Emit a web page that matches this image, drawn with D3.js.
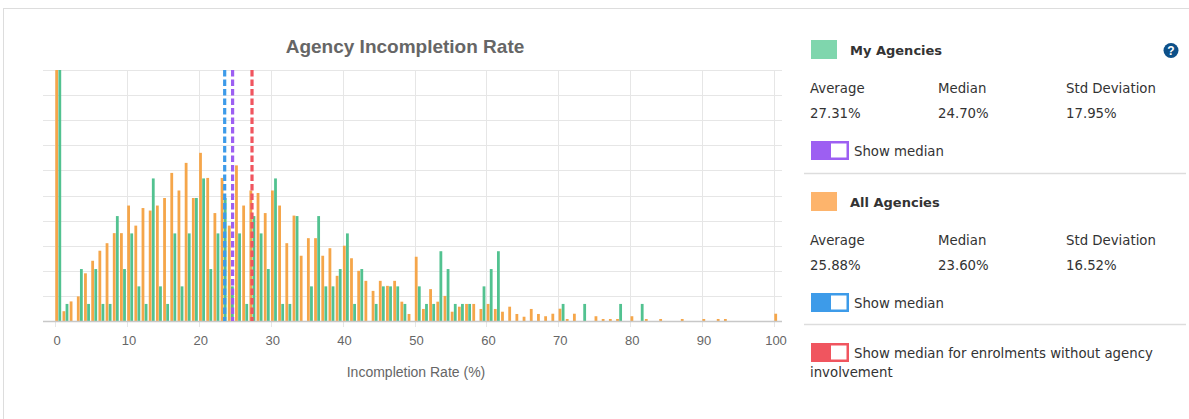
<!DOCTYPE html>
<html>
<head>
<meta charset="utf-8">
<script src="https://cdn.jsdelivr.net/npm/d3@7"></script>
<style>
  html, body { margin: 0; padding: 0; background: #ffffff; }
  svg { display: block; }
</style>
</head>
<body>
<svg id="chart" width="1189" height="419"></svg>
<script>
// ---------- DATA ----------
// Bin start values (Incompletion Rate %, bins of width 1)
const bins = [0,1,2,3,4,5,6,7,8,9,10,11,12,13,14,15,16,17,18,19,20,21,22,23,24,25,26,27,28,29,30,31,32,33,34,35,36,37,38,39,40,41,42,43,44,45,46,47,48,49,50,51,52,53,54,55,56,57,58,59,60,61,62,63,64,65,66,67,68,69,70,71,72,73,74,75,76,77,78,79,80,81,82,83,84,85,86,87,88,89,90,91,92,93,94,95,96,97,98,99,100];

// All Agencies (orange) share per bin (chart units)
const allAgencies = [10.5,0.39,0.78,0.98,1.9,2.4,2.8,3.1,3.5,3.5,
  4.6,3.8,4.5,4.4,4.6,4.9,5.9,5.2,6.3,4.9,
  6.7,5.7,4.3,5.7,3.8,6.2,4.6,5.2,5.1,4.3,
  5.2,4.6,3.1,4.2,2.6,3.3,3.3,2.6,2.9,1.8,
  3.0,2.5,2.0,1.6,1.2,1.6,1.4,1.6,0.77,0.28,
  2.56,0.48,1.27,0.77,1.0,0.37,0.57,0.68,0.68,0.48,
  0.68,0.48,0.37,0.57,0.28,0.17,0.48,0.28,0.19,0.29,
  0.49,0.08,0.29,0,0,0.19,0.08,0.08,0.08,0,
  0.19,0,0.08,0,0.08,0,0,0.08,0,0,
  0.08,0,0.08,0.08,0,0,0,0,0,0,
  0.29];

// My Agencies (green) share per bin
const myAgencies = [10.5,0.68,0,2.07,0.68,2.07,0.68,0.68,4.18,2.07,
  3.49,1.38,0.68,5.68,1.38,0.68,3.49,1.38,3.49,4.9,
  5.68,2.07,3.49,4.9,1.38,3.49,0.68,4.18,3.49,2.07,
  5.68,0.68,0.68,4.18,0,1.38,4.18,1.38,1.38,2.07,
  3.49,0.68,2.07,0,0.68,1.38,1.38,1.38,0.68,0,
  1.38,0.68,0.68,2.78,2.07,0.68,0.68,0.68,0,1.38,
  2.07,2.78,0,0,0,0,0,0,0,0,
  0.68,0,0,0.68,0,0,0,0,0.68,0,
  0,0.68,0,0,0,0,0,0,0,0,
  0,0,0,0,0,0,0,0,0,0,
  0];

const xTicks = [0,10,20,30,40,50,60,70,80,90,100];
const yGrid = [0,1,2,3,4,5,6,7,8,9,10];

// Median lines
const medianNames = ["All Agencies median", "My Agencies median", "Enrolments without agency median"];
const medianValues = [23.6, 24.7, 27.4];
const medianColors = ["#3d9be9", "#9d5ff2", "#f0555f"];

// Stats panel
const statLabels = ["Average", "Median", "Std Deviation"];
const myStats = ["27.31%", "24.70%", "17.95%"];
const allStats = ["25.88%", "23.60%", "16.52%"];

const colorAll = "#f5a64a";
const colorMy = "#52c290";

// ---------- DRAW ----------
const svg = d3.select("#chart");
const font = "'Liberation Sans', Arial, sans-serif";
const panelFont = "'DejaVu Sans', Verdana, sans-serif";

// outer border
svg.append("rect").attr("x", 3.5).attr("y", 8.5).attr("width", 1200).attr("height", 420)
  .attr("fill", "none").attr("stroke", "#dddddd");

const plotLeft = 43, plotRight = 782, plotTop = 70, plotBottom = 321;
const x = d3.scaleLinear().domain([0, 100]).range([55, 774]);
const y = d3.scaleLinear().domain([0, 10]).range([plotBottom, plotTop]).clamp(true);

// title
svg.append("text").attr("x", 405).attr("y", 53).attr("text-anchor", "middle")
  .attr("font-family", font).attr("font-size", 19).attr("font-weight", "bold")
  .attr("fill", "#666666").text("Agency Incompletion Rate");

// horizontal grid
svg.append("g").selectAll("line").data(yGrid).join("line")
  .attr("x1", plotLeft).attr("x2", plotRight)
  .attr("y1", d => Math.round(y(d)) + 0.5).attr("y2", d => Math.round(y(d)) + 0.5)
  .attr("stroke", "#e6e6e6").attr("stroke-width", 1);

// vertical grid (extends below axis as tick)
svg.append("g").selectAll("line").data(xTicks).join("line")
  .attr("x1", d => Math.round(x(d)) + 0.5).attr("x2", d => Math.round(x(d)) + 0.5)
  .attr("y1", plotTop).attr("y2", plotBottom + 6)
  .attr("stroke", "#e6e6e6").attr("stroke-width", 1);

// bars
const bw = 2.8;
svg.append("g").selectAll("rect").data(bins).join("rect")
  .attr("x", (d) => x(d) + 0.3)
  .attr("width", bw)
  .attr("y", (d, i) => y(allAgencies[i]))
  .attr("height", (d, i) => plotBottom - y(allAgencies[i]))
  .attr("fill", colorAll);
svg.append("g").selectAll("rect").data(bins).join("rect")
  .attr("x", (d) => x(d) + 3.4)
  .attr("width", bw)
  .attr("y", (d, i) => y(myAgencies[i]))
  .attr("height", (d, i) => plotBottom - y(myAgencies[i]))
  .attr("fill", colorMy);

// x axis
const xAxis = d3.axisBottom(x).tickValues(xTicks).tickSize(0).tickPadding(15).tickFormat(d3.format("d"));
const gx = svg.append("g").attr("transform", `translate(0,${plotBottom})`).call(xAxis);
gx.select(".domain").remove();
gx.selectAll("text").attr("font-family", font).attr("font-size", 13).attr("fill", "#666666")
  .attr("dx", 1.5);
svg.append("line").attr("x1", plotLeft).attr("x2", plotRight)
  .attr("y1", plotBottom + 0.5).attr("y2", plotBottom + 0.5)
  .attr("stroke", "#c8c8c8").attr("stroke-width", 1.5);

// axis title
svg.append("text").attr("x", 416).attr("y", 377).attr("text-anchor", "middle")
  .attr("font-family", font).attr("font-size", 14).attr("fill", "#666666")
  .text("Incompletion Rate (%)");

// median dashed lines
svg.append("g").selectAll("line").data(medianValues).join("line")
  .attr("x1", d => x(d)).attr("x2", d => x(d))
  .attr("y1", plotTop).attr("y2", plotBottom)
  .attr("stroke", (d, i) => medianColors[i]).attr("stroke-width", 3.2)
  .attr("stroke-dasharray", "6.5,3");

// ---------- PANEL ----------
const panel = svg.append("g");
function section(y0, swatchColor, title, stats) {
  panel.append("rect").attr("x", 811).attr("y", y0).attr("width", 26).attr("height", 19)
    .attr("fill", swatchColor);
  panel.append("text").attr("x", 850).attr("y", y0 + 14.5)
    .attr("font-family", panelFont).attr("font-size", 13).attr("font-weight", "bold")
    .attr("fill", "#333333").text(title);
  const cols = [810, 938, 1066];
  statLabels.forEach((s, i) => {
    panel.append("text").attr("x", cols[i]).attr("y", y0 + 52.5)
      .attr("font-family", panelFont).attr("font-size", 13.3).attr("fill", "#333333").text(s);
    panel.append("text").attr("x", cols[i]).attr("y", y0 + 77.5)
      .attr("font-family", panelFont).attr("font-size", 13.3).attr("fill", "#333333").text(stats[i]);
  });
}
function toggle(y0, color, label) {
  panel.append("rect").attr("x", 811).attr("y", y0).attr("width", 38).attr("height", 19)
    .attr("fill", color);
  panel.append("rect").attr("x", 831).attr("y", y0 + 2.5).attr("width", 15.5).attr("height", 14)
    .attr("fill", "#ffffff");
  panel.append("text").attr("x", 854).attr("y", y0 + 15)
    .attr("font-family", panelFont).attr("font-size", 13.3).attr("fill", "#333333").text(label);
}
section(40, "#7fd6ad", "My Agencies", myStats);
toggle(141, medianColors[1], "Show median");
panel.append("line").attr("x1", 804).attr("x2", 1186).attr("y1", 173.5).attr("y2", 173.5)
  .attr("stroke", "#dddddd").attr("stroke-width", 1.5);
section(192, "#fdb46c", "All Agencies", allStats);
toggle(293, medianColors[0], "Show median");
panel.append("line").attr("x1", 804).attr("x2", 1186).attr("y1", 324.5).attr("y2", 324.5)
  .attr("stroke", "#dddddd").attr("stroke-width", 1.5);
toggle(343, medianColors[2], "Show median for enrolments without agency");
panel.append("text").attr("x", 810).attr("y", 377)
  .attr("font-family", panelFont).attr("font-size", 13.3).attr("fill", "#333333").text("involvement");

// help icon
panel.append("circle").attr("cx", 1171).attr("cy", 50.5).attr("r", 7.5).attr("fill", "#0d5089");
panel.append("text").attr("x", 1171).attr("y", 55).attr("text-anchor", "middle")
  .attr("font-family", font).attr("font-size", 12).attr("font-weight", "bold")
  .attr("fill", "#ffffff").text("?");
</script>
</body>
</html>
